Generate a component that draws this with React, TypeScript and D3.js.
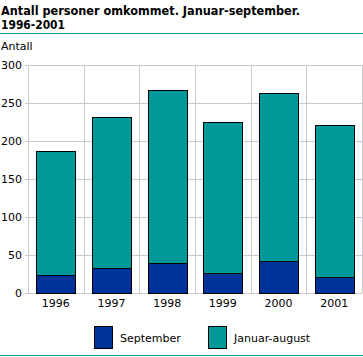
import React from "react";
import * as d3 from "d3";

const years = ["1996", "1997", "1998", "1999", "2000", "2001"];
const september = [24, 33, 40, 26, 42, 21];
const januarAugust = [163, 198, 227, 199, 221, 200];
const yTicks = [0, 50, 100, 150, 200, 250, 300];
const seriesNames = ["September", "Januar-august"];
const colors = ["#003399", "#009999"];

export default function App() {
  const W = 363, H = 357;
  const x = d3.scaleBand().domain(years).range([28, 362]).paddingInner(0.3).paddingOuter(0.15);
  const y = d3.scaleLinear().domain([0, 300]).range([293, 65]);
  const rows = years.map((yr, i) => ({ year: yr, September: september[i], "Januar-august": januarAugust[i] }));
  const stacked = d3.stack().keys(seriesNames)(rows as any);
  const step = x.step();
  const font = "'DejaVu Sans', Verdana, sans-serif";
  return (
    <svg width={W} height={H} style={{ position: "absolute", left: 0, top: 0, background: "#fff" }} fontFamily={font}>
      <text x={1} y={15} fontSize={12.5} fontWeight="bold" fill="#000" textLength={299} lengthAdjust="spacingAndGlyphs">Antall personer omkommet. Januar-september.</text>
      <text x={1} y={28.5} fontSize={12.5} fontWeight="bold" fill="#000" textLength={64} lengthAdjust="spacingAndGlyphs">1996-2001</text>
      <line x1={0} x2={W} y1={33.5} y2={33.5} stroke="#009999" strokeWidth={1} />
      <text x={1} y={50} fontSize={11} fill="#000">Antall</text>
      {yTicks.map(t => (
        <g key={t}>
          <line x1={25} x2={362} y1={Math.round(y(t)) + 0.5} y2={Math.round(y(t)) + 0.5} stroke="#c8c8c8" />
          <text x={22} y={y(t) + 4} fontSize={11} textAnchor="end" fill="#000">{t}</text>
        </g>
      ))}
      {d3.range(years.length + 1).map(i => (
        <line key={i} x1={Math.round(28 + i * step) + 0.5} x2={Math.round(28 + i * step) + 0.5} y1={65} y2={293} stroke="#c8c8c8" />
      ))}
      {stacked.map((s, si) => (
        <g key={si}>
          {s.map((d, i) => (
            <rect key={i} x={Math.round(x(years[i])!) + 0.5} width={Math.round(x.bandwidth())}
              y={Math.round(y(d[1])) + 0.5} height={Math.round(y(d[0])) - Math.round(y(d[1]))}
              fill={colors[si]} stroke="#000" strokeWidth={1} />
          ))}
        </g>
      ))}
      {years.map(yr => (
        <text key={yr} x={x(yr)! + x.bandwidth() / 2} y={307} fontSize={11} textAnchor="middle" fill="#000">{yr}</text>
      ))}
      {seriesNames.map((n, i) => {
        const lx = i === 0 ? 94.5 : 208.5;
        return (
          <g key={n}>
            <rect x={lx} y={326.5} width={18} height={22} fill={colors[i]} stroke="#000" />
            <text x={lx + 25.5} y={342} fontSize={11} fill="#000">{n}</text>
          </g>
        );
      })}
      <line x1={0} x2={W} y1={355.5} y2={355.5} stroke="#009999" strokeWidth={1} />
    </svg>
  );
}
